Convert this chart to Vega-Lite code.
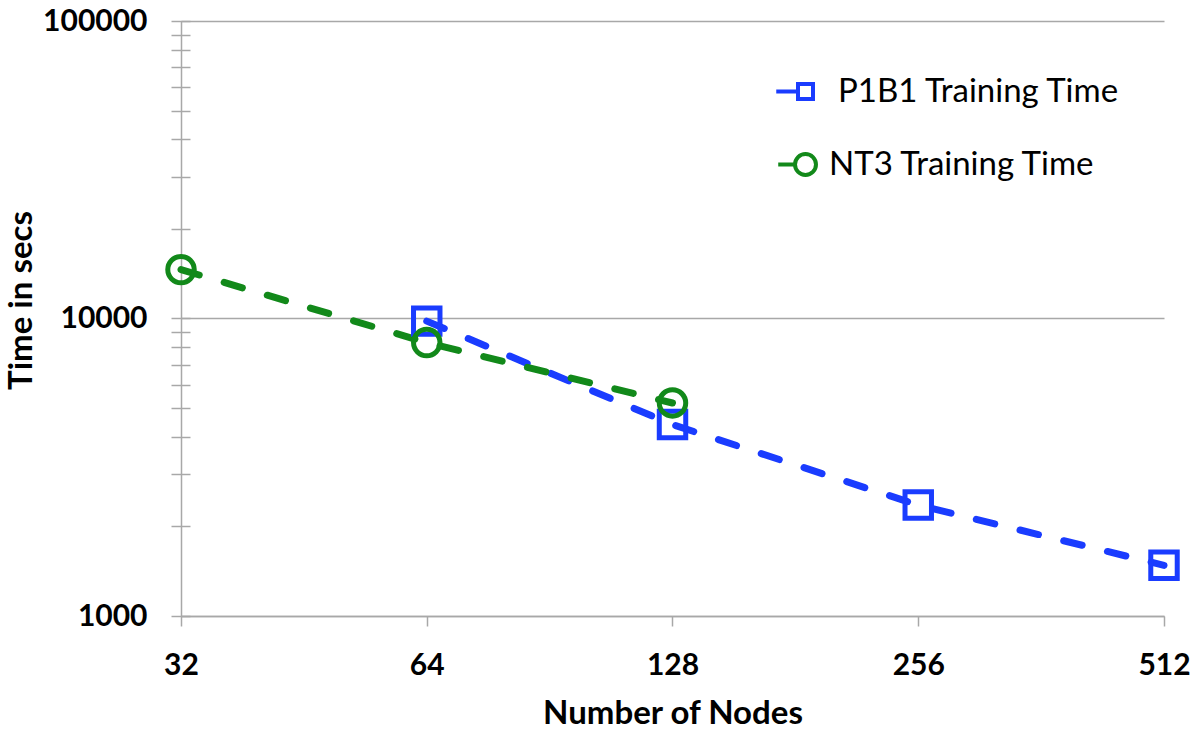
{
  "$schema": "https://vega.github.io/schema/vega-lite/v6.json",
  "width": 983,
  "height": 595,
  "autosize": "none",
  "padding": {"left": 181, "top": 21, "right": 30, "bottom": 114},
  "background": "white",
  "config": {
    "view": {"stroke": null},
    "font": "Lato",
    "axis": {"gridColor": "#a8a8a8", "gridWidth": 1.5, "tickColor": "#a8a8a8", "tickWidth": 1.5, "domainColor": "#a8a8a8", "domainWidth": 1.5, "labelFlush": false}
  },
  "data": {
    "values": [
      {"nodes": 64, "time": 9800, "series": "P1B1 Training Time"},
      {"nodes": 128, "time": 4400, "series": "P1B1 Training Time"},
      {"nodes": 256, "time": 2360, "series": "P1B1 Training Time"},
      {"nodes": 512, "time": 1480, "series": "P1B1 Training Time"},
      {"nodes": 32, "time": 14600, "series": "NT3 Training Time"},
      {"nodes": 64, "time": 8300, "series": "NT3 Training Time"},
      {"nodes": 128, "time": 5200, "series": "NT3 Training Time"}
    ]
  },
  "encoding": {
    "x": {
      "field": "nodes",
      "type": "quantitative",
      "scale": {"type": "log", "base": 2, "domain": [32, 512], "nice": false},
      "axis": {
        "values": [32, 64, 128, 256, 512],
        "format": "d",
        "title": "Number of Nodes",
        "titleFontSize": 33,
        "titleFontWeight": "bold",
        "titleColor": "black",
        "titlePadding": 17,
        "labelFontSize": 30,
        "labelFontWeight": "bold",
        "labelColor": "black",
        "labelPadding": 24,
        "tickSize": 10,
        "domain": true,
        "grid": true,
        "gridOpacity": {"condition": {"test": "datum.value == 32", "value": 1}, "value": 0}
      }
    },
    "y": {
      "field": "time",
      "type": "quantitative",
      "scale": {"type": "log", "domain": [1000, 100000], "nice": false},
      "axis": {
        "values": [1000, 2000, 3000, 4000, 5000, 6000, 7000, 8000, 9000, 10000, 20000, 30000, 40000, 50000, 60000, 70000, 80000, 90000, 100000],
        "format": "d",
        "labelExpr": "(datum.value == 1000 || datum.value == 10000 || datum.value == 100000) ? datum.label : ''",
        "title": "Time in secs",
        "titleFontSize": 33,
        "titleFontWeight": "bold",
        "titleColor": "black",
        "titlePadding": 4,
        "titleY": 279,
        "labelFontSize": 30,
        "labelFontWeight": "bold",
        "labelColor": "black",
        "labelPadding": 24,
        "offset": -9,
        "tickSize": 19,
        "domain": false,
        "grid": true,
        "gridOpacity": {"condition": {"test": "datum.value == 1000 || datum.value == 10000 || datum.value == 100000", "value": 1}, "value": 0}
      }
    },
    "color": {
      "field": "series",
      "type": "nominal",
      "scale": {"domain": ["P1B1 Training Time", "NT3 Training Time"], "range": ["#1a3cff", "#12891a"]},
      "legend": {
        "orient": "none",
        "legendX": 608,
        "legendY": 54,
        "title": null,
        "padding": 0,
        "symbolSize": 400,
        "labelFontSize": 33,
        "labelFont": "Lato",
        "labelColor": "black",
        "labelLimit": 0,
        "labelOffset": 7,
        "rowPadding": 37,
        "encode": {
          "symbols": {
            "update": {
              "shape": {"signal": "datum.value === 'P1B1 Training Time' ? 'M-3.9,0H-1M-1,-1H1V1H-1Z' : 'M-2.6,0H-1M1,0A1,1,0,1,1,-1,0A1,1,0,1,1,1,0Z'"},
              "size": {"signal": "datum.value === 'P1B1 Training Time' ? 225 : 440"},
              "strokeWidth": {"value": 4},
              "strokeDash": {"value": []},
              "fill": {"value": "transparent"},
              "opacity": {"value": 1}
            }
          },
          "labels": {
            "update": {
              "dx": {"signal": "datum.value === 'P1B1 Training Time' ? 9 : 0"}
            }
          }
        }
      }
    }
  },
  "layer": [
    {
      "mark": {"type": "line", "strokeWidth": 7, "strokeDash": [19, 26], "strokeCap": "round"}
    },
    {
      "transform": [{"filter": "datum.series === 'P1B1 Training Time'"}],
      "mark": {"type": "point", "shape": "square", "filled": false, "strokeWidth": 5, "opacity": 1, "size": 700}
    },
    {
      "transform": [{"filter": "datum.series === 'NT3 Training Time'"}],
      "mark": {"type": "point", "shape": "circle", "filled": false, "strokeWidth": 5, "opacity": 1, "size": 700}
    }
  ]
}
